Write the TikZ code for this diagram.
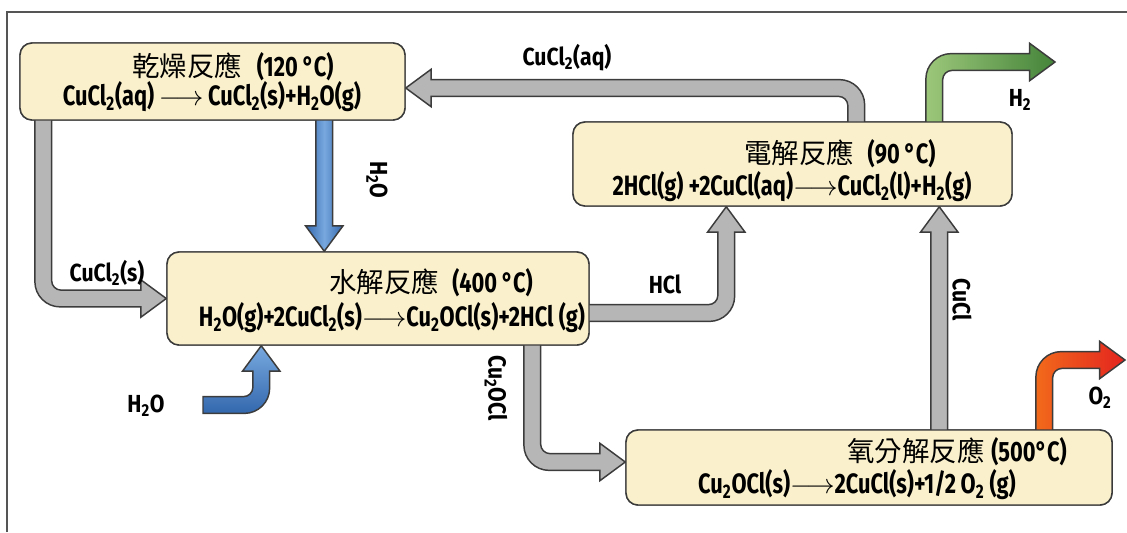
\documentclass[tikz,border=0pt]{standalone}
\usepackage{fontspec}
\usetikzlibrary{calc}
\newfontfamily\lab{Fira Sans}[FakeStretch=0.78]
\newfontfamily\labw{Fira Sans}[FakeStretch=0.86]
\newfontfamily\cjk{Noto Sans CJK TC}
\definecolor{boxfill}{HTML}{FAF1CC}
\definecolor{boxline}{HTML}{3A3A3A}
\definecolor{grayfill}{HTML}{B6B6B6}
\definecolor{arrline}{HTML}{3C3C3C}
\definecolor{blueL}{HTML}{78A8DE}
\definecolor{blueD}{HTML}{3368AE}
\definecolor{greenL}{HTML}{9CC77A}
\definecolor{greenD}{HTML}{44843A}
\definecolor{redO}{HTML}{F26A1B}
\definecolor{redR}{HTML}{E3231F}
\definecolor{framec}{HTML}{555555}
\def\ah{6.3pt}
\def\aH{14pt}
\def\aL{19pt}
\def\aRo{19pt}
\def\aRi{7pt}
% vertical then horizontal
\newcommand{\ArrVH}[3]{%
 \path[#1] let \p1=(#2), \p2=(#3), \n1={sign(\x2-\x1)}, \n2={sign(\y2-\y1)} in
 ({\x1-(\n1)*\ah}, {\y1})
 -- ({\x1-(\n1)*\ah}, {\y2+(\n2)*\ah-(\n2)*\aRo})
 .. controls ({\x1-(\n1)*\ah}, {\y2+(\n2)*\ah-(\n2)*\aRo*0.448}) and ({\x1-(\n1)*\ah+(\n1)*\aRo*0.448}, {\y2+(\n2)*\ah}) .. ({\x1-(\n1)*\ah+(\n1)*\aRo}, {\y2+(\n2)*\ah})
 -- ({\x2-(\n1)*\aL}, {\y2+(\n2)*\ah})
 -- ({\x2-(\n1)*\aL}, {\y2+(\n2)*\aH})
 -- (\x2, \y2)
 -- ({\x2-(\n1)*\aL}, {\y2-(\n2)*\aH})
 -- ({\x2-(\n1)*\aL}, {\y2-(\n2)*\ah})
 -- ({\x1+(\n1)*\ah+(\n1)*\aRi}, {\y2-(\n2)*\ah})
 .. controls ({\x1+(\n1)*\ah+(\n1)*\aRi*0.448}, {\y2-(\n2)*\ah}) and ({\x1+(\n1)*\ah}, {\y2-(\n2)*\ah-(\n2)*\aRi*0.448}) .. ({\x1+(\n1)*\ah}, {\y2-(\n2)*\ah-(\n2)*\aRi})
 -- ({\x1+(\n1)*\ah}, {\y1}) -- cycle;}
% horizontal then vertical
\newcommand{\ArrHV}[3]{%
 \path[#1] let \p1=(#2), \p2=(#3), \n1={sign(\x2-\x1)}, \n2={sign(\y2-\y1)} in
 ({\x1}, {\y1-(\n2)*\ah})
 -- ({\x2+(\n1)*\ah-(\n1)*\aRo}, {\y1-(\n2)*\ah})
 .. controls ({\x2+(\n1)*\ah-(\n1)*\aRo*0.448}, {\y1-(\n2)*\ah}) and ({\x2+(\n1)*\ah}, {\y1-(\n2)*\ah+(\n2)*\aRo*0.448}) .. ({\x2+(\n1)*\ah}, {\y1-(\n2)*\ah+(\n2)*\aRo})
 -- ({\x2+(\n1)*\ah}, {\y2-(\n2)*\aL})
 -- ({\x2+(\n1)*\aH}, {\y2-(\n2)*\aL})
 -- (\x2, \y2)
 -- ({\x2-(\n1)*\aH}, {\y2-(\n2)*\aL})
 -- ({\x2-(\n1)*\ah}, {\y2-(\n2)*\aL})
 -- ({\x2-(\n1)*\ah}, {\y1+(\n2)*\ah+(\n2)*\aRi})
 .. controls ({\x2-(\n1)*\ah}, {\y1+(\n2)*\ah+(\n2)*\aRi*0.448}) and ({\x2-(\n1)*\ah-(\n1)*\aRi*0.448}, {\y1+(\n2)*\ah}) .. ({\x2-(\n1)*\ah-(\n1)*\aRi}, {\y1+(\n2)*\ah})
 -- ({\x1}, {\y1+(\n2)*\ah}) -- cycle;}
% straight vertical
\newcommand{\ArrV}[3]{%
 \path[#1] let \p1=(#2), \p2=(#3), \n2={sign(\y2-\y1)} in
 ({\x1-\ah}, {\y1}) -- ({\x1-\ah}, {\y2-(\n2)*\aL}) -- ({\x1-\aH}, {\y2-(\n2)*\aL})
 -- (\x1, \y2) -- ({\x1+\aH}, {\y2-(\n2)*\aL}) -- ({\x1+\ah}, {\y2-(\n2)*\aL})
 -- ({\x1+\ah}, {\y1}) -- cycle;}
\tikzset{
 box/.style={draw=boxline, line width=1.1pt, fill=boxfill, rounded corners=9pt, inner sep=0pt},
 graya/.style={draw=arrline, line width=1.1pt, fill=grayfill},
 bluea/.style={draw=arrline, line width=1.1pt, left color=blueD, right color=blueD, middle color=blueL},
 blueb/.style={draw=arrline, line width=1.1pt, top color=blueL, bottom color=blueD},
 greena/.style={draw=arrline, line width=1.1pt, left color=greenL, right color=greenD},
 reda/.style={draw=arrline, line width=1.1pt, left color=redO, right color=redR},
 lbl/.style={font=\labw\bfseries\fontsize{18.5}{20}\selectfont, text=black, inner sep=0pt},
 eqn/.style={font=\lab\bfseries\fontsize{21}{24}\selectfont, text=black, inner sep=0pt},
 ttl/.style={font=\lab\bfseries\fontsize{21}{24}\selectfont, text=black, inner sep=0pt},
 frame/.style={draw=framec, line width=1.1pt}
}
\newcommand{\zh}[1]{{\cjk\fontsize{20.6}{24}\selectfont\mdseries #1}}
\newcommand{\sub}[1]{\textsubscript{#1}}
\newcommand{\lra}{\,$\longrightarrow$\,}
\begin{document}
\begin{tikzpicture}[x=0.75pt,y=-0.75pt]
\useasboundingbox (0,0) rectangle (1127,532);
\draw[frame] (7,532) -- (7,12) -- (1127,12);
% boxes (positions)
\path (212.5,81.5) node[box, minimum width=288.75pt, minimum height=57.75pt] (b1) {};
\path (792.5,164) node[box, minimum width=329.25pt, minimum height=63pt] (b2) {};
\path (378,298.5) node[box, minimum width=316.5pt, minimum height=69.75pt] (b3) {};
\path (869,467.5) node[box, minimum width=364.5pt, minimum height=56.25pt] (b4) {};
% connector end points
\coordinate (a1s) at ($(b1.south west)+(24,-3)$);
\coordinate (a1t) at (b3.west);
\coordinate (a2s) at ($(b1.south west)+(305,-3)$);
\coordinate (a2t) at (a2s |- b3.north);
\coordinate (a3s) at (203,405);
\coordinate (a3t) at ($(b3.south west)+(95,0)$);
\coordinate (a4s) at ($(b3.east)+(-3,14.5)$);
\coordinate (a4t) at ($(b2.south west)+(154,0)$);
\coordinate (a5s) at ($(b3.south west)+(366,-3)$);
\coordinate (a5t) at ($(b4.west)+(0,-5.5)$);
\coordinate (a6s) at ($(b4.north west)+(314,3)$);
\coordinate (a6t) at (a6s |- b2.south);
\coordinate (a7s) at ($(b2.north west)+(284,3)$);
\coordinate (a7t) at ($(b1.east)+(0,6.5)$);
\coordinate (a8s) at ($(b2.north west)+(362,3)$);
\coordinate (a8t) at (1055,62);
\coordinate (a9s) at ($(b4.north west)+(419,3)$);
\coordinate (a9t) at (1125,360);
% arrows
\ArrVH{graya}{a1s}{a1t}
\ArrV{bluea}{a2s}{a2t}
\ArrHV{blueb}{a3s}{a3t}
\ArrHV{graya}{a4s}{a4t}
\ArrVH{graya}{a5s}{a5t}
\ArrV{graya}{a6s}{a6t}
\ArrVH{graya}{a7s}{a7t}
\ArrVH{greena}{a8s}{a8t}
\ArrVH{reda}{a9s}{a9t}
% boxes drawn again on top
\node[box, minimum width=288.75pt, minimum height=57.75pt] at (b1) {};
\node[box, minimum width=329.25pt, minimum height=63pt] at (b2) {};
\node[box, minimum width=316.5pt, minimum height=69.75pt] at (b3) {};
\node[box, minimum width=364.5pt, minimum height=56.25pt] at (b4) {};
% box texts
\node[ttl] (t1) at (233,67) {\zh{乾燥反應}\hspace{11pt}(120\,°C)};
\node[eqn] (e1) at (212,97) {CuCl\sub{2}(aq)\lra CuCl\sub{2}(s)+H\sub{2}O(g)};
\node[ttl] (t2) at (840,154) {\zh{電解反應}\hspace{10pt}(90\,°C)};
\node[eqn] (e2) at (792,187) {2HCl(g) +2CuCl(aq)$\longrightarrow$CuCl\sub{2}(l)+H\sub{2}(g)};
\node[ttl] (t3) at (431,283) {\zh{水解反應}\hspace{10pt}(400\,°C)};
\node[eqn] (e3) at (392,318) {H\sub{2}O(g)+2CuCl\sub{2}(s)$\longrightarrow$Cu\sub{2}OCl(s)+2HCl (g)};
\node[ttl] (t4) at (957,452) {\zh{氧分解反應}\hspace{5pt}(500°C)};
\node[eqn] (e4) at (857,485) {Cu\sub{2}OCl(s)$\longrightarrow$2CuCl(s)+1/2\,O\sub{2} (g)};
% labels
\node[lbl] (l1) at (567,58) {CuCl\sub{2}(aq)};
\node[lbl] (l2) at (107,273) {CuCl\sub{2}(s)};
\node[lbl, rotate=-90] (l3) at (377,180) {H\sub{2}O};
\node[lbl] (l4) at (146,406) {H\sub{2}O};
\node[lbl] (l5) at (665,284) {HCl};
\node[lbl, rotate=-90] (l6) at (496,388) {Cu\sub{2}OCl};
\node[lbl, rotate=-90] (l7) at (962,300) {CuCl};
\node[lbl] (l8) at (1020,100) {H\sub{2}};
\node[lbl] (l9) at (1100,398) {O\sub{2}};
\end{tikzpicture}
\end{document}
